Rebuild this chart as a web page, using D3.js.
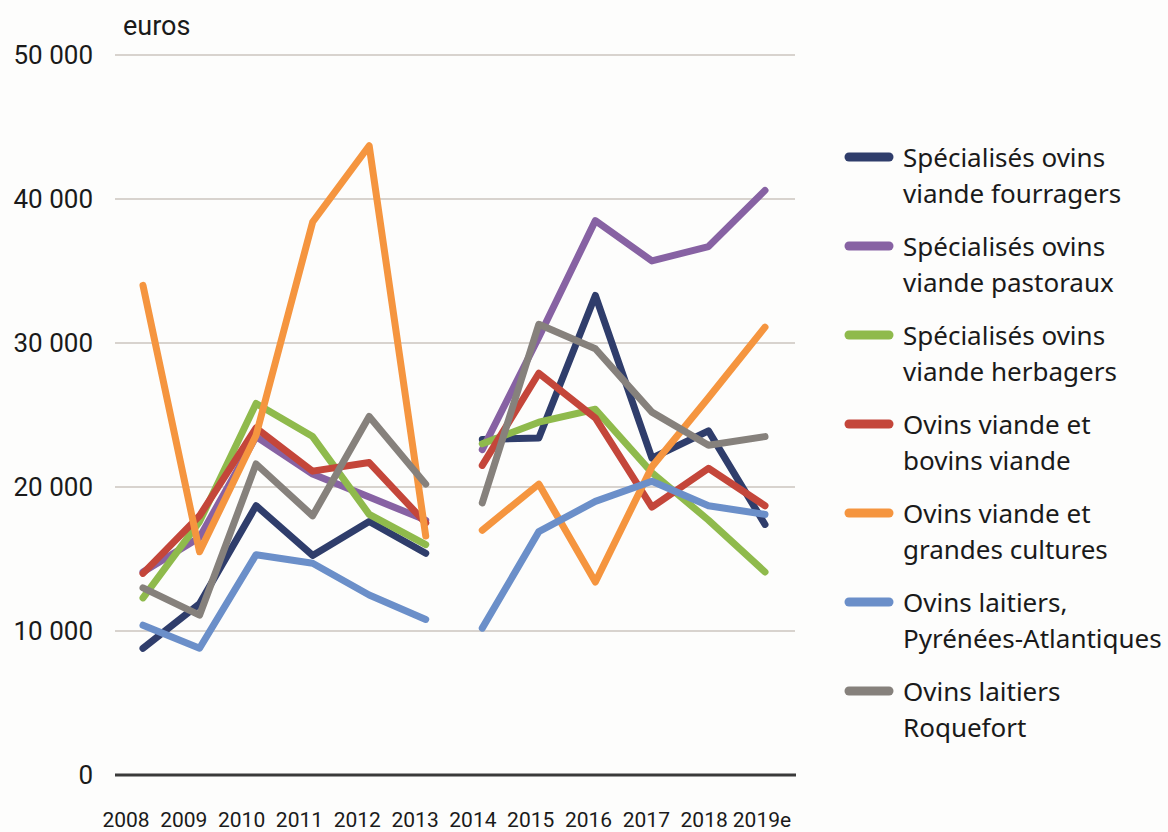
<!DOCTYPE html>
<html>
<head>
<meta charset="utf-8">
<script src="https://cdn.jsdelivr.net/npm/d3@7"></script>
<style>
  body { margin: 0; background: #fdfdfc; }
  svg { display: block; }
  .tick-label { font-family: Roboto, sans-serif; fill: #1a1a1a; }
  .legend-text { font-family: "Noto Sans", sans-serif; fill: #1a1a1a; }
</style>
</head>
<body>
<div id="chart"></div>
<script>
// years on the x axis, the survey changes between 2013 and 2014 so lines break there
const years = ["2008", "2009", "2010", "2011", "2012", "2013", "2014", "2015", "2016", "2017", "2018", "2019e"];
const periods = [
    ["2008", "2009", "2010", "2011", "2012", "2013"],
    ["2014", "2015", "2016", "2017", "2018", "2019e"]
];
const yTicks = [0, 10000, 20000, 30000, 40000, 50000];

const seriesNames = [
    ["Spécialisés ovins", "viande fourragers"],
    ["Spécialisés ovins", "viande pastoraux"],
    ["Spécialisés ovins", "viande herbagers"],
    ["Ovins viande et", "bovins viande"],
    ["Ovins viande et", "grandes cultures"],
    ["Ovins laitiers,", "Pyrénées-Atlantiques"],
    ["Ovins laitiers", "Roquefort"]
];
const seriesColors = ["#2f3d6b", "#8762a3", "#8fba4c", "#c4463a", "#f5953f", "#6b8fc9", "#86817c"];

const fourragers = [8800, 11900, 18700, 15250, 17600, 15400, 23300, 23400, 33300, 22000, 23900, 17400];
const pastoraux = [14100, 16500, 23500, 20900, 19300, 17700, 22600, 30400, 38500, 35700, 36700, 40600];
const herbagers = [12300, 17600, 25800, 23500, 18100, 16000, 23000, 24500, 25400, 21000, 17700, 14100];
const bovinsViande = [14000, 18000, 24100, 21100, 21700, 17500, 21500, 27900, 24800, 18600, 21300, 18700];
const grandesCultures = [34000, 15500, 23600, 38400, 43700, 16600, 17000, 20200, 13400, 21400, 26200, 31100];
const pyreneesAtl = [10400, 8800, 15300, 14700, 12500, 10800, 10200, 16900, 19000, 20400, 18700, 18100];
const roquefort = [13000, 11100, 21600, 18000, 24900, 20200, 18900, 31300, 29600, 25200, 22900, 23500];

const seriesValues = [fourragers, pastoraux, herbagers, bovinsViande, grandesCultures, pyreneesAtl, roquefort];

const width = 1168;
const height = 832;

const svg = d3.select('#chart').append('svg')
    .attr('width', width)
    .attr('height', height);

const xScale = d3.scalePoint()
    .domain(years)
    .range([143, 765]);

// the year labels sit a bit left of the points in the original
const labelScale = d3.scalePoint()
    .domain(years)
    .range([126, 762]);

const yScale = d3.scaleLinear()
    .domain([0, 50000])
    .range([775, 55]);

const fmt = (v) => d3.format(',')(v).replace(/,/g, ' ');

// horizontal grid
svg.append('g')
    .selectAll('line')
    .data(yTicks.filter(t => t > 0))
    .enter()
    .append('line')
    .attr('x1', 115)
    .attr('x2', 795)
    .attr('y1', d => yScale(d))
    .attr('y2', d => yScale(d))
    .attr('stroke', '#d8d3ce')
    .attr('stroke-width', 2);

// y tick labels
svg.append('g')
    .selectAll('text')
    .data(yTicks)
    .enter()
    .append('text')
    .attr('class', 'tick-label')
    .attr('x', 93)
    .attr('y', d => yScale(d) + 9)
    .attr('text-anchor', 'end')
    .attr('font-size', 26)
    .text(d => fmt(d));

svg.append('text')
    .attr('class', 'tick-label')
    .attr('x', 123)
    .attr('y', 35)
    .attr('font-size', 27)
    .text('euros');

// lines, one path per series per period
const line = d3.line()
    .x(d => xScale(d.year))
    .y(d => yScale(d.value));

seriesValues.forEach((vals, i) => {
    periods.forEach(period => {
        const pts = period.map(yr => ({ year: yr, value: vals[years.indexOf(yr)] }));
        svg.append('path')
            .datum(pts)
            .attr('d', line)
            .attr('fill', 'none')
            .attr('stroke', seriesColors[i])
            .attr('stroke-width', 7)
            .attr('stroke-linejoin', 'round')
            .attr('stroke-linecap', 'round');
    });
});

// x axis line at zero
svg.append('line')
    .attr('x1', 115)
    .attr('x2', 796)
    .attr('y1', yScale(0))
    .attr('y2', yScale(0))
    .attr('stroke', '#3a3a3a')
    .attr('stroke-width', 3);

// x tick labels
svg.append('g')
    .selectAll('text')
    .data(years)
    .enter()
    .append('text')
    .attr('class', 'tick-label')
    .attr('x', d => labelScale(d))
    .attr('y', 827)
    .attr('text-anchor', 'middle')
    .attr('font-size', 21)
    .text(d => d);

// legend
const legend = svg.append('g').attr('transform', 'translate(845, 157)');
const legendItems = legend.selectAll('g')
    .data(seriesNames)
    .enter()
    .append('g')
    .attr('transform', (d, i) => `translate(0, ${i * 89})`);

legendItems.append('line')
    .attr('x1', 4)
    .attr('x2', 44)
    .attr('y1', 0)
    .attr('y2', 0)
    .attr('stroke', (d, i) => seriesColors[i])
    .attr('stroke-width', 9)
    .attr('stroke-linecap', 'round');

legendItems.each(function (d) {
    d3.select(this).selectAll('text')
        .data(d)
        .enter()
        .append('text')
        .attr('class', 'legend-text')
        .attr('x', 58)
        .attr('y', (t, j) => 10 + j * 36)
        .attr('font-size', 26)
        .text(t => t);
});
</script>
</body>
</html>
